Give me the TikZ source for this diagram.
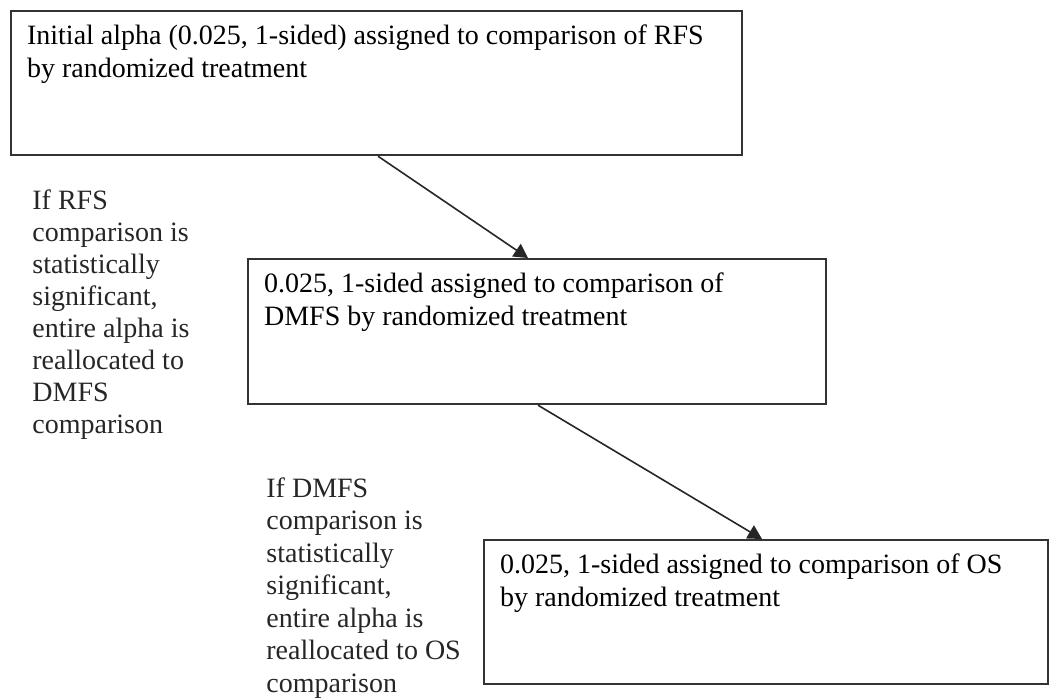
\documentclass[tikz,border=0pt]{standalone}
\usepackage{fontspec}
\setmainfont{Liberation Serif}
\usetikzlibrary{arrows.meta}
\tikzset{
  stagebox/.style={draw=black!80, line width=1.1pt, anchor=north west, inner xsep=8pt, inner ysep=7pt, font=\fontsize{14}{16.5}\selectfont},
  sidenote/.style={anchor=north west, inner sep=0pt, align=left, text=black!85},
  passon/.style={-{Triangle[width=7.5pt,length=7pt]}, line width=0.8pt, black!85}
}
\newcommand{\boxbody}[3]{\begin{minipage}[t][#2][t]{#1}#3\end{minipage}}
\begin{document}
\begin{tikzpicture}[x=0.5pt,y=-0.5pt]
\useasboundingbox (0,0) rectangle (1051,698);
\node[stagebox] (rfs) at (10,10) {\boxbody{349.5pt}{58pt}{Initial alpha (0.025, 1-sided) assigned to comparison of RFS\\by randomized treatment}};
\node[stagebox] (dmfs) at (247,258) {\boxbody{273pt}{58.5pt}{0.025, 1-sided assigned to comparison of\\DMFS by randomized treatment}};
\node[stagebox] (os) at (483,539) {\boxbody{266pt}{58pt}{0.025, 1-sided assigned to comparison of OS\\by randomized treatment}};
\node[sidenote, font=\fontsize{14}{16}\selectfont] (ifrfs) at (32,189) {If RFS\\comparison is\\statistically\\significant,\\entire alpha is\\reallocated to\\DMFS\\comparison};
\node[sidenote, font=\fontsize{14}{16.25}\selectfont] (ifdmfs) at (266,477) {If DMFS\\comparison is\\statistically\\significant,\\entire alpha is\\reallocated to OS\\comparison};
\draw[passon] ([xshift=184pt]rfs.south west) -- ([xshift=140.5pt]dmfs.north west);
\draw[passon] ([xshift=145.5pt]dmfs.south west) -- ([xshift=139.5pt]os.north west);
\end{tikzpicture}
\end{document}
